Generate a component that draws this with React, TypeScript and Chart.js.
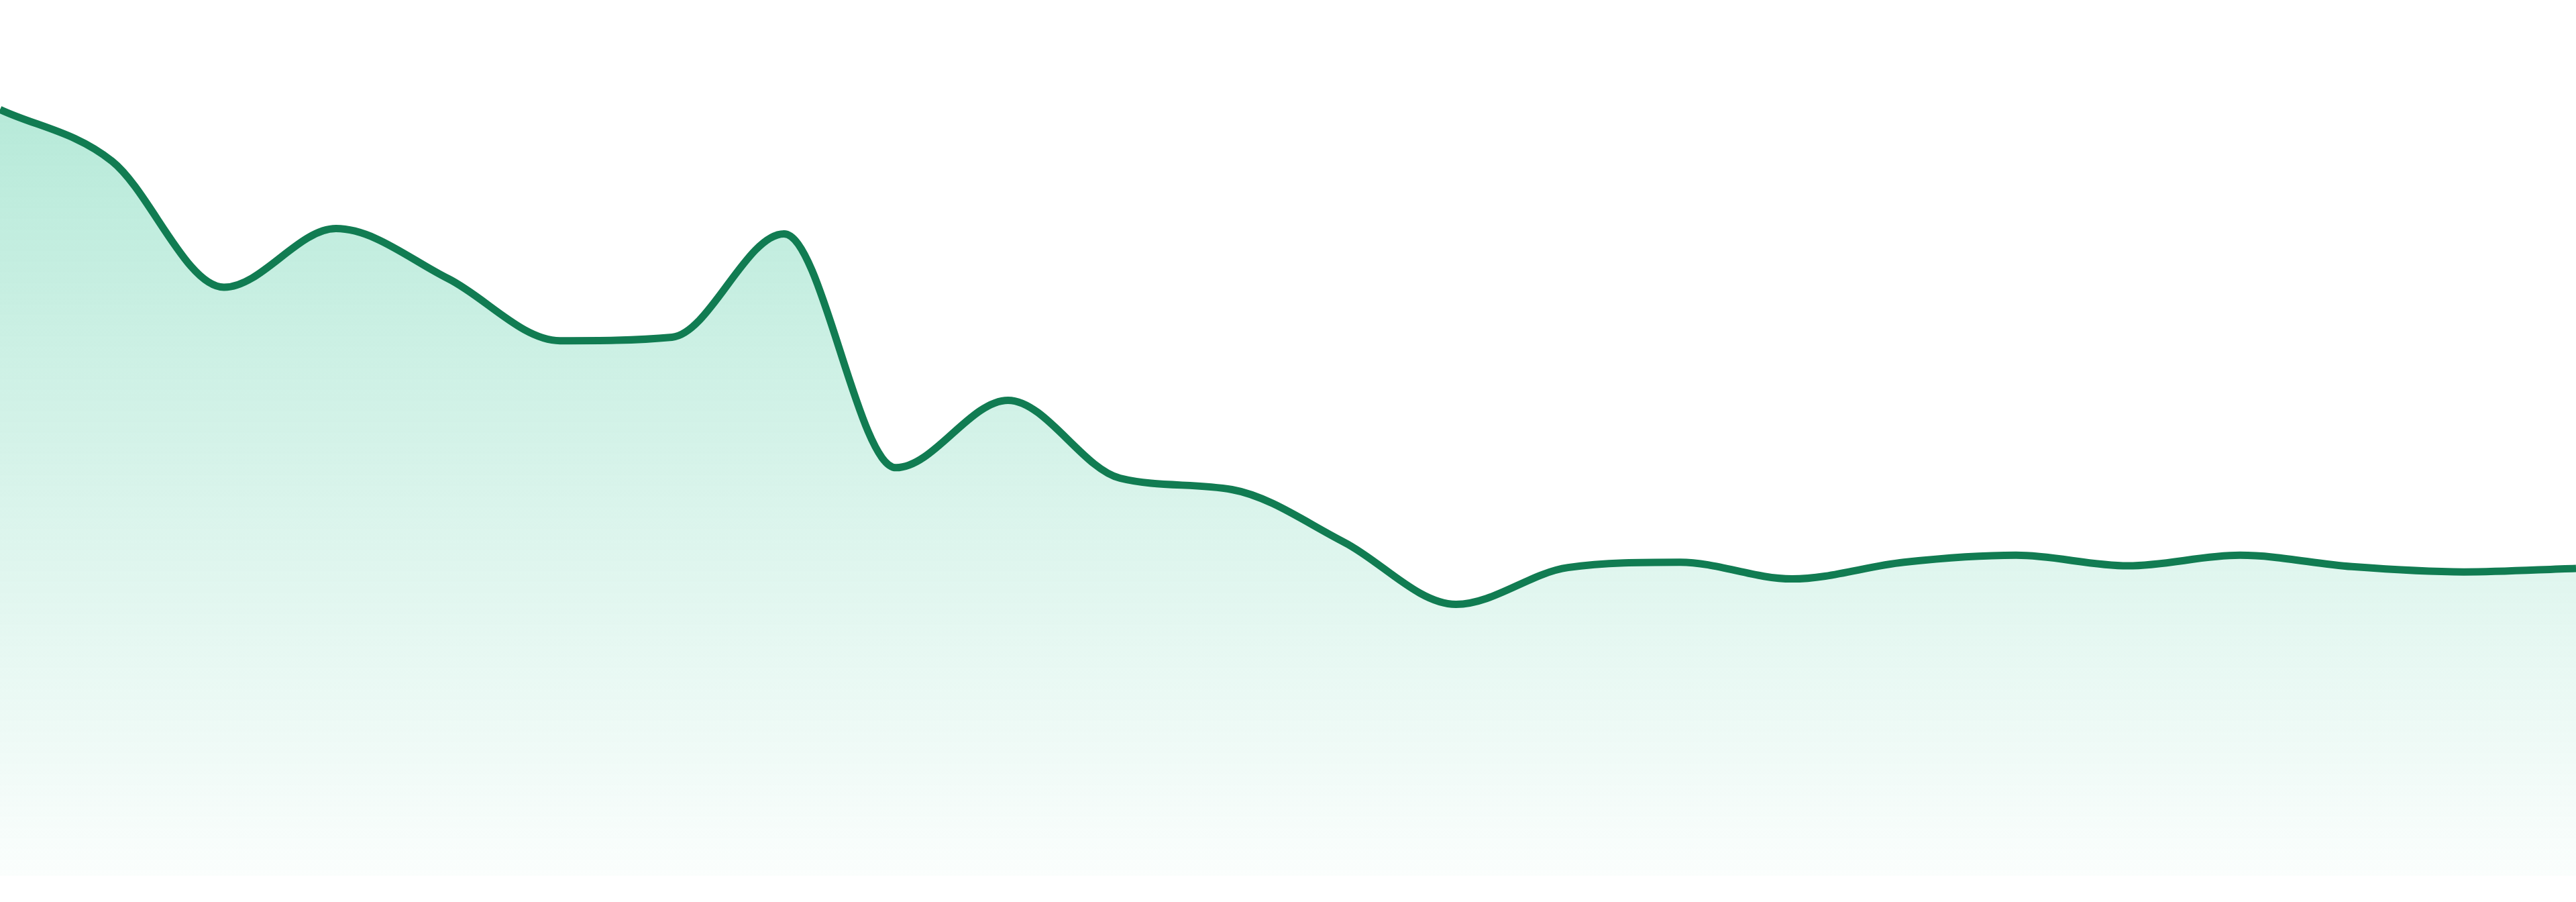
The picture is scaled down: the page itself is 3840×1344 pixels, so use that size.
import React, { useEffect, useRef } from "react";
import { Chart, registerables } from "chart.js";

Chart.register(...registerables);

const labels: string[] = [
  "1", "2", "3", "4", "5", "6", "7", "8", "9", "10", "11", "12",
  "13", "14", "15", "16", "17", "18", "19", "20", "21", "22", "23", "24",
];

const values: number[] = [
  87.5, 81.6, 67.2, 73.9, 68.2, 61.1, 61.5, 73.3, 46.6, 54.3, 45.4, 44.1,
  38.1, 31.0, 35.2, 35.8, 33.9, 35.8, 36.6, 35.4, 36.6, 35.3, 34.7, 35.1,
];

const yMin = 0;
const yMax = 100;

const LINE_COLOR = "rgb(17,124,82)";

export default function App() {
  const ref = useRef<HTMLCanvasElement | null>(null);

  useEffect(() => {
    document.body.style.margin = "0";
    const canvas = ref.current;
    if (!canvas) return;
    const chart = new Chart(canvas, {
      type: "line",
      data: {
        labels,
        datasets: [
          {
            data: values,
            borderColor: LINE_COLOR,
            borderWidth: 11,
            cubicInterpolationMode: "monotone",
            pointRadius: 0,
            pointHoverRadius: 0,
            fill: "origin",
            backgroundColor: (ctx: any) => {
              const area = ctx.chart.chartArea;
              if (!area) return "rgba(16,185,129,0.2)";
              const g = ctx.chart.ctx.createLinearGradient(0, area.top, 0, area.bottom);
              g.addColorStop(0, "rgba(16,185,129,0.34)");
              g.addColorStop(1, "rgba(16,185,129,0.02)");
              return g;
            },
          },
        ],
      },
      options: {
        animation: false,
        responsive: false,
        devicePixelRatio: 1,
        layout: { padding: { top: 0, left: 0, right: 0, bottom: 39 } },
        plugins: {
          legend: { display: false },
          tooltip: { enabled: false },
        },
        scales: {
          x: { display: false, offset: false },
          y: { display: false, min: yMin, max: yMax },
        },
      },
    });
    return () => chart.destroy();
  }, []);

  return (
    <div style={{ width: 3840, height: 1344, background: "#ffffff" }}>
      <canvas ref={ref} width={3840} height={1344} style={{ display: "block" }} />
    </div>
  );
}
